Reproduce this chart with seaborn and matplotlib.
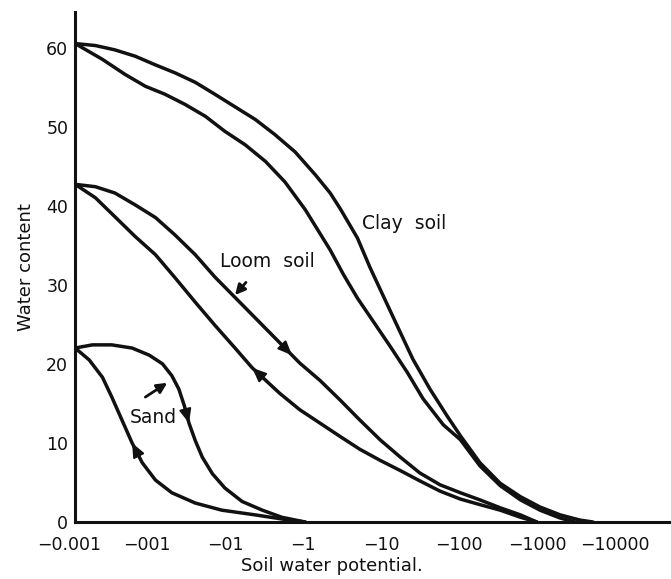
import numpy as np
import pandas as pd
import matplotlib
matplotlib.use("Agg")
import matplotlib.pyplot as plt
from matplotlib.transforms import ScaledTranslation
import seaborn as sns

sns.set_theme(style="white")
plt.rcParams['font.family'] = ['DejaVu Sans']

# x = log10(|soil water potential|), y = water content
clay_dry_x = [-3.0, -2.74, -2.49, -2.23, -1.97, -1.72, -1.46, -1.21, -0.95, -0.69, -0.44, -0.18,
              0.08, 0.27, 0.40, 0.62, 0.78, 0.95, 1.13, 1.33, 1.55, 1.77, 1.94, 2.19, 2.45, 2.71,
              2.96, 3.22, 3.47, 3.64]
clay_dry_y = [60.5, 60.25, 59.7, 58.9, 57.8, 56.8, 55.6, 54.1, 52.5, 50.9, 49.0, 46.8,
              43.9, 41.6, 39.6, 35.9, 32.2, 28.6, 24.8, 20.6, 16.8, 13.4, 10.9, 7.5, 4.9, 3.2,
              1.9, 0.9, 0.25, 0.0]
clay_wet_x = [-3.0, -2.65, -2.36, -2.10, -1.85, -1.59, -1.33, -1.08, -0.82, -0.56, -0.31, -0.05,
              0.27, 0.44, 0.62, 0.82, 1.04, 1.26, 1.46, 1.72, 1.94, 2.19, 2.45, 2.71,
              2.96, 3.22, 3.41]
clay_wet_y = [60.5, 58.5, 56.6, 55.1, 54.1, 52.8, 51.3, 49.4, 47.7, 45.6, 43.0, 39.5,
              34.4, 31.3, 28.3, 25.4, 22.2, 18.9, 15.6, 12.3, 10.4, 7.1, 4.6, 2.8,
              1.5, 0.5, 0.0]

loam_dry_x = [-3.0, -2.74, -2.49, -2.23, -1.97, -1.72, -1.46, -1.21, -0.95, -0.69, -0.44, -0.22,
              -0.12, 0.14, 0.40, 0.65, 0.91, 1.17, 1.42, 1.68, 1.94, 2.19, 2.45, 2.71, 2.92]
loam_dry_y = [42.7, 42.4, 41.6, 40.1, 38.5, 36.3, 33.8, 31.0, 28.4, 25.8, 23.3, 21.1,
              20.1, 17.9, 15.4, 12.9, 10.4, 8.2, 6.2, 4.7, 3.7, 2.8, 1.8, 0.9, 0.0]
loam_wet_x = [-3.0, -2.74, -2.49, -2.23, -1.97, -1.72, -1.46, -1.21, -0.95, -0.73, -0.38, -0.12,
              0.14, 0.40, 0.65, 0.91, 1.17, 1.42, 1.68, 1.94, 2.19, 2.45, 2.71, 2.92]
loam_wet_y = [42.7, 41.0, 38.6, 36.1, 33.8, 30.9, 27.8, 24.9, 22.0, 19.5, 16.3, 14.2,
              12.5, 10.8, 9.2, 7.8, 6.5, 5.2, 3.9, 2.9, 2.2, 1.5, 0.6, 0.0]

sand_dry_x = [-3.0, -2.78, -2.53, -2.27, -2.05, -1.88, -1.76, -1.67, -1.60, -1.54, -1.46, -1.37,
              -1.24, -1.08, -0.86, -0.60, -0.35, -0.05]
sand_dry_y = [22.0, 22.4, 22.4, 22.0, 21.1, 20.0, 18.5, 16.8, 14.7, 12.5, 10.3, 8.2,
              6.1, 4.3, 2.6, 1.5, 0.6, 0.0]
sand_wet_x = [-3.0, -2.82, -2.65, -2.53, -2.40, -2.27, -2.14, -1.97, -1.76, -1.46, -1.12, -0.69,
              -0.26, -0.05]
sand_wet_y = [22.0, 20.5, 18.3, 15.8, 12.9, 10.0, 7.5, 5.3, 3.7, 2.4, 1.5, 0.9,
              0.25, 0.0]

tick_pos = [-3, -2, -1, 0, 1, 2, 3, 4]
tick_labels = ["\u22120.001", "\u2212001", "\u221201", "\u22121", "\u221210", "\u2212100", "\u22121000", "\u221210000"]
ytick_pos = [0, 10, 20, 30, 40, 50, 60]

curves = {
    "clay_dry": (clay_dry_x, clay_dry_y),
    "clay_wet": (clay_wet_x, clay_wet_y),
    "loam_dry": (loam_dry_x, loam_dry_y),
    "loam_wet": (loam_wet_x, loam_wet_y),
    "sand_dry": (sand_dry_x, sand_dry_y),
    "sand_wet": (sand_wet_x, sand_wet_y),
}
rows = []
for name, (xs, ys) in curves.items():
    for i, (a, b) in enumerate(zip(xs, ys)):
        rows.append({"curve": name, "order": i, "x": a, "y": b})
df = pd.DataFrame(rows)

ink = "#111111"
fig = plt.figure(figsize=(6.71, 5.79), dpi=100)
ax = fig.add_axes([0.112, 0.0984, 0.888, 0.881])
sns.lineplot(data=df, x="x", y="y", units="curve", estimator=None, sort=False,
             color=ink, linewidth=2.5, ax=ax)
for ln in ax.lines:
    ln.set_solid_joinstyle("round")
    ln.set_solid_capstyle("round")

ax.set_xlim(-3, 4.64)
ax.set_ylim(0, 64.5)
ax.set_xticks(tick_pos)
ax.set_xticklabels(tick_labels)
ax.set_yticks(ytick_pos)
for s in ["top", "right"]:
    ax.spines[s].set_visible(False)
for s in ["left", "bottom"]:
    ax.spines[s].set_color(ink)
    ax.spines[s].set_linewidth(2.2)
ax.tick_params(direction="in", length=6, width=2, colors=ink, labelsize=12.5)
ax.tick_params(axis="x", pad=10)
ax.tick_params(axis="y", pad=5)
off = ScaledTranslation(-6 / 100, 0, fig.dpi_scale_trans)
for lab in ax.get_xticklabels():
    lab.set_transform(lab.get_transform() + off)
ax.set_xlabel("Soil water potential.", fontsize=13, color=ink)
ax.xaxis.set_label_coords(0.431, -0.069, transform=ax.transAxes)
ax.xaxis.label.set_va("top")
ax.set_ylabel("Water content", fontsize=13, color=ink, labelpad=8)

# direction arrows on curves
def arrow(xs, ys, i, j):
    ax.annotate("", xy=(xs[j], ys[j]), xytext=(xs[i], ys[i]),
                arrowprops=dict(arrowstyle="-|>,head_length=0.7,head_width=0.3",
                                color=ink, lw=1.5, shrinkA=0, shrinkB=0))

arrow(loam_dry_x, loam_dry_y, 9, 11)
arrow(loam_wet_x, loam_wet_y, 10, 9)
arrow(sand_dry_x, sand_dry_y, 8, 9)
arrow(sand_wet_x, sand_wet_y, 6, 5)

# labels
ax.text(1.22, 37.7, "Clay  soil", fontsize=13.5, color=ink, ha="center", va="center")
ax.text(-0.54, 32.9, "Loom  soil", fontsize=13.5, color=ink, ha="center", va="center")
ax.text(-2.0, 13.2, "Sand", fontsize=13.5, color=ink, ha="center", va="center")
ax.annotate("", xy=(-0.95, 28.7), xytext=(-0.81, 30.3),
            arrowprops=dict(arrowstyle="-|>,head_length=0.5,head_width=0.25",
                            color=ink, lw=2, shrinkA=0, shrinkB=0))
ax.annotate("", xy=(-1.82, 17.6), xytext=(-2.10, 15.8),
            arrowprops=dict(arrowstyle="-|>,head_length=0.5,head_width=0.25",
                            color=ink, lw=2, shrinkA=0, shrinkB=0))

fig.savefig("out.png", dpi=100, facecolor="white")
